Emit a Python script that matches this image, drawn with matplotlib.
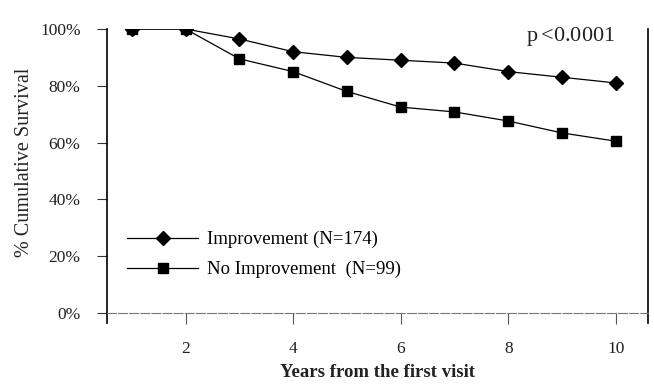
import numpy as np
import matplotlib
matplotlib.use('Agg')
import matplotlib.pyplot as plt

# data
years = [1, 2, 3, 4, 5, 6, 7, 8, 9, 10]
improvement = [100, 100, 96.5, 92, 90, 89, 88, 85, 83, 81]
no_improvement = [100, 100, 89.5, 85, 78, 72.5, 70.8, 67.6, 63.4, 60.5]
y_ticks = [0, 20, 40, 60, 80, 100]
y_labels = ['0%', '20%', '40%', '60%', '80%', '100%']
x_ticks = [2, 4, 6, 8, 10]

plt.rcParams['font.family'] = ['Liberation Serif', 'DejaVu Serif']

fig = plt.figure(figsize=(6.54, 3.84), dpi=100)
ax = fig.add_axes([0.1636, 0.159, 0.8274, 0.7655])

ax.plot(years, improvement, color='black', lw=0.9, marker='D', ms=7,
        label='Improvement (N=174)')
ax.plot(years, no_improvement, color='black', lw=0.9, marker='s', ms=7.5,
        label='No Improvement  (N=99)')

ax.set_xlim(0.54, 10.6)
ax.set_ylim(-3.5, 100)

ax.spines['top'].set_visible(False)
ax.spines['bottom'].set_position(('data', 0))
ax.spines['bottom'].set_color('#777777')
ax.spines['bottom'].set_linewidth(0.8)
ax.spines['bottom'].set_linestyle((0, (8, 2)))
ax.spines['left'].set_linewidth(1.2)
ax.spines['right'].set_linewidth(1.2)

ax.set_yticks(y_ticks)
ax.set_yticklabels(y_labels)
ax.set_xticks(x_ticks)
ax.tick_params(axis='y', length=7, width=0.8, pad=12, labelsize=12.5,
               colors='#333333', labelcolor='#222222')
ax.tick_params(axis='x', length=8, width=0.8, pad=12, labelsize=12.5,
               colors='#555555', labelcolor='#222222')

ax.set_ylabel('% Cumulative Survival', fontsize=14.5, color='#222222')
ax.yaxis.set_label_coords(-0.135, 0.548)
ax.set_xlabel('Years from the first visit', fontsize=13.5, fontweight='bold',
              color='#222222', labelpad=5)

ax.text(8.33, 97.5, 'p$\\,$<0.0001', fontsize=16, color='#222222',
        ha='left', va='center')

ax.legend(loc='upper left', bbox_to_anchor=(0.02, 0.345), frameon=False,
          borderpad=0, handlelength=3.8, handletextpad=0.45, labelspacing=0.68,
          numpoints=1, fontsize=13.5)

fig.savefig('out.png', dpi=100)
